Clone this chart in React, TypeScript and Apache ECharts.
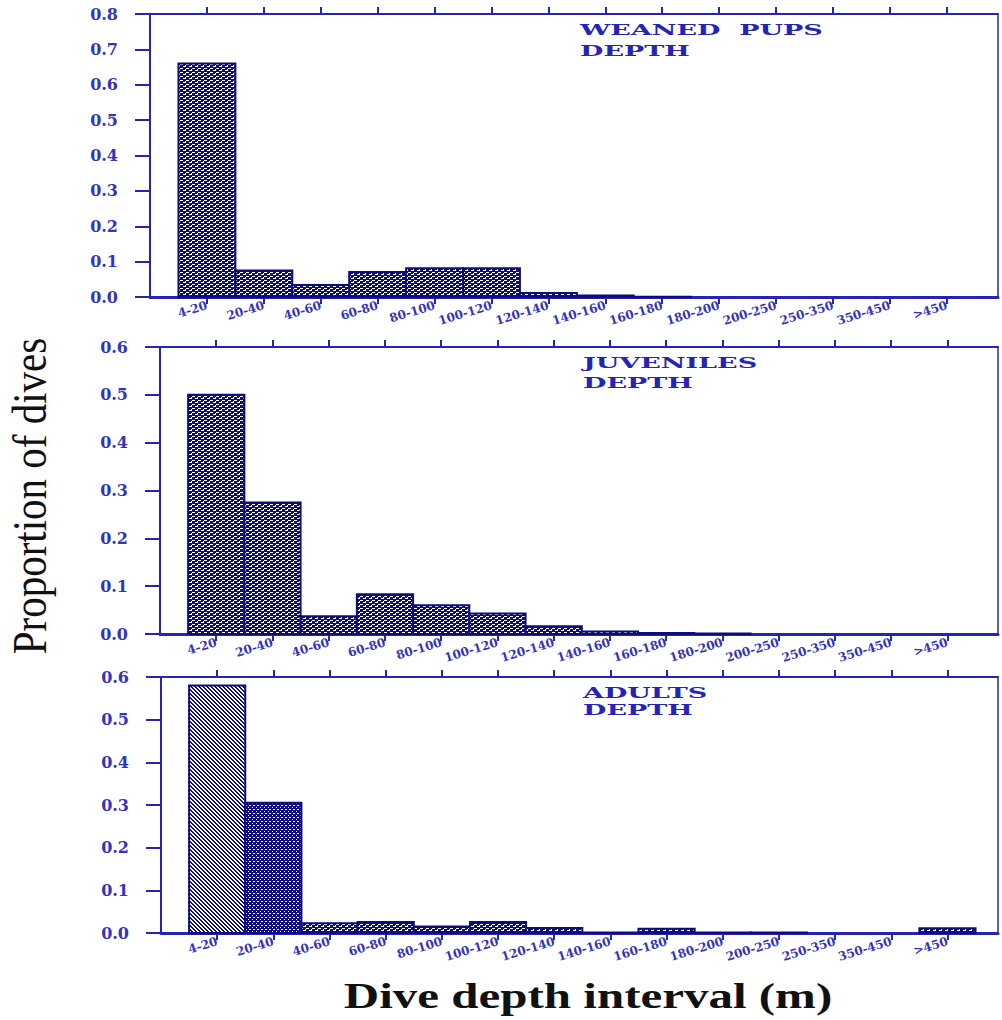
import React, { useEffect, useRef } from "react";
import * as echarts from "echarts";

// Dive depth classes (m)
const depthBins = [
  "4-20", "20-40", "40-60", "60-80", "80-100", "100-120", "120-140",
  "140-160", "160-180", "180-200", "200-250", "250-350", "350-450", ">450",
];

// Proportion of dives per depth class
const weanedPups = [0.66, 0.075, 0.034, 0.071, 0.081, 0.081, 0.011, 0.004, 0.001, 0, 0, 0, 0, 0];
const juveniles = [0.5, 0.275, 0.037, 0.083, 0.06, 0.043, 0.016, 0.005, 0.002, 0.001, 0, 0, 0, 0];
const adults = [0.58, 0.305, 0.023, 0.026, 0.015, 0.026, 0.012, 0.001, 0.01, 0.001, 0.001, 0, 0, 0.011];

const panelNames = ["WEANED  PUPS", "JUVENILES", "ADULTS"];
const panelSubtitle = "DEPTH";
const yMaxima = [0.8, 0.6, 0.6];

const AXIS = "#2424b8";
const LABEL = "#3232c4";
const NAVY = "#0c0c7c";

function makeTile(w: number, h: number, bg: string, fg: string, cells: number[][]) {
  const c = document.createElement("canvas");
  c.width = w;
  c.height = h;
  const ctx = c.getContext("2d")!;
  ctx.fillStyle = bg;
  ctx.fillRect(0, 0, w, h);
  ctx.fillStyle = fg;
  cells.forEach(([x, y]) => ctx.fillRect(x, y, 1, 1));
  return c;
}

export default function App() {
  const ref = useRef<HTMLDivElement>(null);

  useEffect(() => {
    if (!ref.current) return;
    const chart = echarts.init(ref.current, null, { renderer: "svg" });

    // woven fill: short white dashes on navy
    const weave = makeTile(6, 4, NAVY, "#ffffff", [
      [0, 0], [1, 0], [2, 0],
      [3, 2], [4, 2], [5, 2],
      [5, 1],
    ]);
    // diagonal hatching: navy lines on white
    const hatch = makeTile(4, 4, "#ffffff", NAVY, [
      [0, 0], [1, 0], [1, 1], [2, 1], [2, 2], [3, 2], [3, 3], [0, 3],
    ]);
    // rows of white beads on navy
    const beads = makeTile(8, 4, NAVY, "#ffffff", [
      [1, 1], [2, 1], [5, 1], [6, 1],
      [0, 3], [4, 3],
    ]);
    const pat = (img: HTMLCanvasElement) => ({ image: img, repeat: "repeat" });

    const grids = [
      { left: 150, top: 14, width: 848, height: 283 },
      { left: 160, top: 347, width: 838, height: 287 },
      { left: 161, top: 677, width: 837, height: 256 },
    ];
    const tickVals = depthBins.map((_, i) => i + 1);

    const xAxis: any[] = [];
    const yAxis: any[] = [];
    grids.forEach((_, g) => {
      xAxis.push({
        type: "value", gridIndex: g, min: 0, max: 14.9, interval: 1, position: "bottom",
        axisLine: { show: true, onZero: false, lineStyle: { color: AXIS, width: 3 } },
        axisTick: { show: true, customValues: tickVals, length: 7, lineStyle: { color: AXIS, width: 2 } },
        axisLabel: {
          show: true, customValues: tickVals, rotate: 17, margin: 8,
          formatter: (v: number) => depthBins[Math.round(v) - 1] ?? "",
          color: LABEL, fontSize: 12, fontWeight: "bold", fontFamily: "DejaVu Serif",
        },
        splitLine: { show: false },
      });
      xAxis.push({
        type: "value", gridIndex: g, min: 0, max: 14.9, interval: 1, position: "top",
        axisLine: { show: true, onZero: false, lineStyle: { color: AXIS, width: 2 } },
        axisTick: { show: true, customValues: tickVals, length: 7, lineStyle: { color: AXIS, width: 2 } },
        axisLabel: { show: false },
        splitLine: { show: false },
      });
      yAxis.push({
        type: "value", gridIndex: g, min: 0, max: yMaxima[g], interval: 0.1, position: "left",
        axisLine: { show: true, onZero: false, lineStyle: { color: AXIS, width: 2 } },
        axisTick: { show: true, length: 15, lineStyle: { color: AXIS, width: 2 } },
        axisLabel: {
          margin: 32, formatter: (v: number) => v.toFixed(1),
          color: LABEL, fontSize: 16, fontWeight: "bold", fontFamily: "DejaVu Serif",
        },
        splitLine: { show: false },
      });
      yAxis.push({
        type: "value", gridIndex: g, min: 0, max: yMaxima[g], interval: 0.1, position: "right",
        axisLine: { show: true, onZero: false, lineStyle: { color: AXIS, width: 1.5 } },
        axisTick: { show: false },
        axisLabel: { show: false },
        splitLine: { show: false },
      });
    });

    const fillFor = (panel: number, idx: number) => {
      if (panel === 2 && idx === 0) return pat(hatch);
      if (panel === 2 && idx === 1) return pat(beads);
      return pat(weave);
    };

    const series = [weanedPups, juveniles, adults].map((vals, g) => ({
      type: "custom",
      xAxisIndex: g * 2,
      yAxisIndex: g * 2,
      encode: { x: 0, y: 1 },
      data: vals.map((v, i) => [i + 1, v]),
      renderItem: (params: any, api: any) => {
        const v = api.value(1);
        if (!(v > 0)) return null;
        const c = api.value(0);
        const p0 = api.coord([c - 0.5, v]);
        const p1 = api.coord([c + 0.5, 0]);
        return {
          type: "rect",
          shape: { x: p0[0], y: p0[1], width: p1[0] - p0[0], height: p1[1] - p0[1] },
          style: { fill: fillFor(g, params.dataIndex), stroke: NAVY, lineWidth: 2 },
        };
      },
    }));

    const titleTops = [30, 363, 693];
    const subTops = [51, 383, 710];
    const titleLefts = [580, 583, 583];
    const graphic: any[] = [];
    panelNames.forEach((name, g) => {
      [name, panelSubtitle].forEach((txt, k) => {
        graphic.push({
          type: "text", x: titleLefts[g], y: k === 0 ? titleTops[g] : subTops[g], scaleX: 1.8,
          style: {
            text: txt, fill: AXIS, fontSize: 15, fontWeight: "bold", fontFamily: "DejaVu Serif",
            textAlign: "left", textVerticalAlign: "middle",
          },
        });
      });
    });
    graphic.push({
      type: "text", x: 588, y: 996, scaleX: 1.4,
      style: {
        text: "Dive depth interval (m)", fill: "#111111", fontSize: 35, fontWeight: "bold",
        fontFamily: "Liberation Serif", textAlign: "center", textVerticalAlign: "middle",
      },
    });
    graphic.push({
      type: "text", x: 30, y: 496, rotation: Math.PI / 2, scaleY: 1.2,
      style: {
        text: "Proportion of dives", fill: "#111111", fontSize: 41, fontWeight: "normal",
        fontFamily: "Liberation Serif", textAlign: "center", textVerticalAlign: "middle",
      },
    });

    chart.setOption({
      animation: false,
      backgroundColor: "#ffffff",
      grid: grids.map((g) => ({ ...g, containLabel: false })),
      xAxis,
      yAxis,
      series,
      graphic,
    });

    return () => chart.dispose();
  }, []);

  return (
    <div
      ref={ref}
      style={{ position: "absolute", left: 0, top: 0, width: 1002, height: 1020 }}
    />
  );
}
